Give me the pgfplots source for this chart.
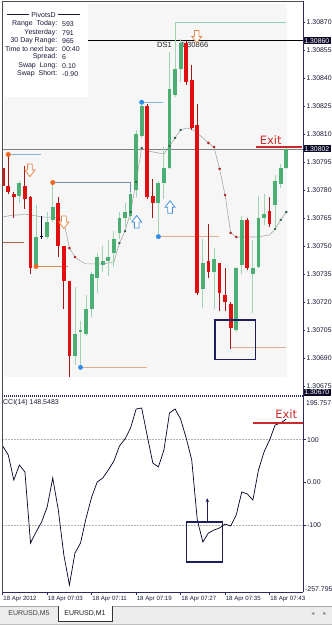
\documentclass[border=0pt]{standalone}
\usepackage{pgfplots}
\pgfplotsset{compat=1.18}
\usepackage{pgfplotstable}
\usepackage{fontspec}
\setmainfont{Liberation Sans}
\newfontfamily\dejavu{DejaVu Sans}
\usetikzlibrary{arrows.meta}

\definecolor{bull}{HTML}{4BAE72}
\definecolor{bullwick}{HTML}{9ED4B2}
\definecolor{bear}{HTML}{E01010}
\definecolor{bearwick}{HTML}{A01818}
\definecolor{boxnavy}{HTML}{1E1E5A}
\definecolor{axisnavy}{HTML}{2A2A60}
\definecolor{labelnavy}{HTML}{1A1A3A}
\definecolor{tanline}{HTML}{DDAE90}
\definecolor{orangeline}{HTML}{D88A58}
\definecolor{brownline}{HTML}{B0604A}
\definecolor{pivblue}{HTML}{88B4D8}
\definecolor{dotorange}{HTML}{F0641E}
\definecolor{dotblue}{HTML}{2E8DEB}
\definecolor{tealline}{HTML}{8FD0BF}
\definecolor{exitred}{HTML}{CC2A2A}
\definecolor{chartbg}{HTML}{F6F6F6}
\definecolor{maline}{HTML}{A8A8A8}
\definecolor{madotred}{HTML}{B02020}
\definecolor{madotgreen}{HTML}{2E5E3E}
\definecolor{arroworange}{HTML}{E88A4A}
\definecolor{arrowblue}{HTML}{4A90D8}
\definecolor{tabbg}{HTML}{ECECEC}
\definecolor{hlbg}{HTML}{0A0A28}

\pgfdeclareplotmark{darrow}{%
  \pgfpathmoveto{\pgfqpoint{-2.3pt}{6.5pt}}%
  \pgfpathlineto{\pgfqpoint{2.3pt}{6.5pt}}%
  \pgfpathlineto{\pgfqpoint{2.3pt}{0.5pt}}%
  \pgfpathlineto{\pgfqpoint{5pt}{0.5pt}}%
  \pgfpathlineto{\pgfqpoint{0pt}{-6pt}}%
  \pgfpathlineto{\pgfqpoint{-5pt}{0.5pt}}%
  \pgfpathlineto{\pgfqpoint{-2.3pt}{0.5pt}}%
  \pgfpathclose
  \pgfusepathqfillstroke}
\pgfdeclareplotmark{uarrow}{%
  \pgfpathmoveto{\pgfqpoint{-2.3pt}{-6.5pt}}%
  \pgfpathlineto{\pgfqpoint{2.3pt}{-6.5pt}}%
  \pgfpathlineto{\pgfqpoint{2.3pt}{-0.5pt}}%
  \pgfpathlineto{\pgfqpoint{5pt}{-0.5pt}}%
  \pgfpathlineto{\pgfqpoint{0pt}{6pt}}%
  \pgfpathlineto{\pgfqpoint{-5pt}{-0.5pt}}%
  \pgfpathlineto{\pgfqpoint{-2.3pt}{-0.5pt}}%
  \pgfpathclose
  \pgfusepathqfillstroke}

% prices in points above 1.30600 (e.g. 270 = 1.30870)
\pgfplotstableread{
i O H L C
3 177 185 173 184
6 139 172 138 155
8 155 168 154 163
9 164 184 163 171
13 91 128 86 103
14 104 110 85 105
15 103 124 102 116
16 116 136 112 135
17 133 146 125 144
18 140 150 136 142
19 142 153 134 144
20 146 158 139 154
21 157 168 154 165
22 165 173 160 168
23 166 179 164 178
24 180 212 176 210
25 209 227 208 225
28 173 185 155 184
29 184 203 175 192
30 192 254 191 234
31 231 270 230 245
32 245 261 238 259
36 127 154 117 141
38 136 149 116 143
42 105 139 104 138
43 140 166 135 164
45 135 153 114 138
46 139 177 138 165
47 165 178 161 167
49 172 188 159 185
50 183 194 181 192
51 192 202.5 191 202
}\bulltab

\pgfplotstableread{
i O H L C
0 192 197 180 182
1 182 199 178 179
2 178 179 165 176
4 182 193 170 175
5 176 177 135 138
10 173 176 144 150
11 150 150 116 131
12 131 131 80 91
26 225 226 175 176
27 177 186 165 173
33 259 260 236 238
34 239 247 212 213
35 215 226 124 125
37 142 162 133 136
39 141 141 115 125
40 124 138 115 120
41 119 120 95 106
44 164 165 137 138
48 169 176 160 162
}\beartab

\pgfplotstableread{
i v
0 165.5
1 166.1
2 166.6
3 166.6
4 167.1
5 166.6
6 166.1
7 165.5
8 165.5
9 165.5
10 165.0
11 163.0
12 148.9
13 144.1
14 141.9
15 140.4
16 140.4
17 140.4
18 140.4
19 140.9
20 141.4
21 151.6
22 158.0
23 168.2
24 184.3
25 202.5
26 200.9
27 200.4
28 199.8
29 199.3
30 203.6
31 207.9
32 212.1
33 213.2
34 212.7
35 210.5
36 207.9
37 205.2
38 203.0
39 191.3
40 177.3
41 157.0
42 154.8
43 154.8
44 154.8
45 154.8
46 154.8
47 155.4
48 155.9
49 159.1
50 164.0
51 168.2
}\matab

\pgfplotstableread{
i cci
-0.5 93
0 85.3
1 64.2
2 5.4
3 40.7
4 24.2
5 -142.6
6 -116.8
7 -93.3
8 -58.0
9 10.1
10 -65.1
11 -170.8
12 -241.3
13 -166.1
14 -142.6
15 -83.9
16 -34.5
17 0.7
18 10.1
19 28.9
20 50.1
21 85.3
22 101.8
23 127.6
24 172.3
25 174.6
26 108.8
27 45.4
28 36.0
29 75.9
30 162.9
31 172.3
32 148.7
33 104.1
34 52.4
35 -88.6
36 -140.3
37 -119.1
38 -112.1
39 -107.4
40 -98.0
41 -102.7
42 -76.8
43 -22.8
44 -27.5
45 -41.6
46 28.9
47 71.2
48 99.4
49 134.6
50 139.4
51 148.5
}\ccitab

\newcommand{\lblfont}{\fontsize{6.9}{7}\selectfont}
\newcommand{\infofont}{\fontsize{7}{8}\selectfont}
\pgfplotsset{candle/.style={draw=none, mark=none, error bars/.cd, y dir=plus, y explicit, error mark=none}}

\begin{document}
\begin{tikzpicture}
\useasboundingbox (0pt,0pt) rectangle (332pt,625pt);
\fill[white] (0pt,0pt) rectangle (332pt,625pt);
\fill[chartbg] (4pt,248pt) rectangle (287pt,621pt);

% ---------------- main price panel ----------------
\begin{axis}[
  at={(2pt,229pt)}, anchor=south west,
  scale only axis, width=301pt, height=394pt,
  xmin=-0.126, xmax=54.01, ymin=69.64, ymax=280.71,
  axis line style={draw=none},
  clip mode=individual,
  xtick=\empty,
  ytick={75,90,105,120,135,150,165,180,195,210,225,240,255,270},
  yticklabels={1.30675,1.30690,1.30705,1.30720,1.30735,1.30750,1.30765,1.30780,1.30795,1.30810,1.30825,1.30840,1.30855,1.30870},
  ytick pos=right, yticklabel pos=right,
  tick align=outside, major tick length=2.5pt,
  tick style={axisnavy, line width=0.5pt},
  yticklabel style={font=\lblfont, text=labelnavy, anchor=west, inner sep=0pt, xshift=1pt},
]
% horizontal reference lines
\addplot[gray, line width=0.6pt] coordinates {(-0.126,202) (54.01,202)};
\addplot[black, line width=0.9pt] coordinates {(-0.126,260) (54.01,260)};
% pivot lines
\addplot[brownline, line width=0.8pt] coordinates {(-0.126,152) (3.8,152)};
\addplot[pivblue, line width=0.8pt] coordinates {(1,199) (6.9,199)};
\addplot[pivblue!80!black, line width=0.8pt] coordinates {(9,184) (22.9,184) (22.9,178.5)};
\addplot[pivblue, line width=0.8pt] coordinates {(25,227) (28.8,227)};
\addplot[orangeline, line width=0.8pt] coordinates {(6,139) (11.75,139)};
\addplot[tanline, line width=0.9pt] coordinates {(14,85) (26,85)};
\addplot[tanline, line width=0.9pt] coordinates {(28,155) (38.9,155)};
\addplot[tanline, line width=0.9pt] coordinates {(41,95.4) (51,95.4)};
\addplot[tealline, line width=0.8pt] coordinates {(31,270) (51,270)};
% DS1 label
\node[anchor=west, inner sep=0pt, font=\fontsize{7.6}{8}\selectfont, text=black!85] at (axis cs:27.75,257.7) {DS1};
\node[anchor=west, inner sep=0pt, font=\fontsize{7.6}{8}\selectfont, text=black!85] at (axis cs:32.0,257.7) {1.30866};
% moving average
\addplot[maline, line width=0.6pt, mark=none] table[x=i, y=v] {\matab};
% candles: wicks
\addplot[candle, error bar style={draw=bullwick, line width=0.9pt}]
  table[x=i, y=L, y error plus expr={\thisrow{H}-\thisrow{L}}] {\bulltab};
\addplot[candle, error bar style={draw=bearwick, line width=0.9pt}]
  table[x=i, y=L, y error plus expr={\thisrow{H}-\thisrow{L}}] {\beartab};
% candles: bodies
\addplot[candle, error bar style={draw=bull, line width=3.8pt}]
  table[x=i, y=O, y error plus expr={\thisrow{C}-\thisrow{O}}] {\bulltab};
\addplot[candle, error bar style={draw=bear, line width=3.8pt}]
  table[x=i, y=C, y error plus expr={\thisrow{O}-\thisrow{C}}] {\beartab};
% doji
\addplot[black!80!blue, line width=0.8pt] coordinates {(7,154) (7,166)};
\addplot[black!80!blue, line width=0.9pt] coordinates {(6.68,155) (7.32,155)};
% MA dots
\addplot[only marks, mark=*, mark size=1.1pt, color=madotred] coordinates {(11,163.0) (12,148.9) (13,144.1) (37,205.2) (38,203.0) (39,191.3) (40,177.3) (41,157.0) (42,154.8)};
\addplot[only marks, mark=*, mark size=1.0pt, color=madotgreen] coordinates {(21,151.6) (22,158.0) (23,168.2) (24,184.3) (25,202.5) (30,203.6) (31,207.9) (32,212.1) (49,159.1) (50,164.0) (51,168.2)};
% swing dots
\addplot[only marks, mark=*, mark size=2.2pt, color=dotorange] coordinates {(1,199) (9,184) (6,139)};
\addplot[only marks, mark=*, mark size=2.2pt, color=dotblue] coordinates {(25,227) (14,85) (28,155)};
% signal arrows
\addplot[only marks, mark=darrow, mark options={draw=arroworange, fill=white, line width=0.8pt}] coordinates {(4.9,190.4) (11.0,162.6) (34.9,262)};
\addplot[only marks, mark=uarrow, mark options={draw=arrowblue, fill=white, line width=0.8pt}] coordinates {(24.1,163.1) (30.1,171.0)};
% box
\addplot[boxnavy, line width=1.2pt, line cap=rect, line join=miter] coordinates {(38.2,89.1) (45.4,89.1) (45.4,110.4) (38.2,110.4) (38.2,89.1)};
% exit
\addplot[exitred, line width=1.3pt] coordinates {(45.6,203) (53.9,203)};
\node[anchor=base west, inner sep=0pt, font=\dejavu\fontsize{11.5}{12}\selectfont, text=exitred] at (axis cs:46.2,204.6) {Exit};
% highlighted price labels
\node[anchor=west, fill=hlbg, text=white, inner xsep=1.2pt, inner ysep=1pt, font=\lblfont] at (axis cs:54.01,260) {1.30860};
\node[anchor=west, fill=hlbg, text=white, inner xsep=1.2pt, inner ysep=1pt, font=\lblfont] at (axis cs:54.01,202) {1.30802};
\node[anchor=west, fill=hlbg, text=white, inner xsep=1.2pt, inner ysep=1pt, font=\lblfont] at (axis cs:54.01,71.5) {1.30670};
\end{axis}

% ---------------- CCI panel ----------------
\begin{axis}[
  at={(2pt,33pt)}, anchor=south west,
  scale only axis, width=301pt, height=193pt,
  xmin=-0.126, xmax=54.01, ymin=-257.795, ymax=195.757,
  axis line style={draw=none},
  clip mode=individual,
  xtick={0,8,16,24,32,40,48},
  xticklabels={18 Apr 2012,18 Apr 07:03,18 Apr 07:11,18 Apr 07:19,18 Apr 07:27,18 Apr 07:35,18 Apr 07:43},
  ytick={-100,0,100},
  yticklabels={-100,0.00,100},
  xtick pos=left, ytick pos=right, yticklabel pos=right,
  tick align=outside, major tick length=3pt,
  tick style={axisnavy, line width=0.5pt},
  xticklabel style={font=\fontsize{6.1}{7}\selectfont, text=labelnavy, anchor=north west, inner sep=0pt, xshift=0.5pt, yshift=-1pt},
  yticklabel style={font=\lblfont, text=labelnavy, anchor=west, inner sep=0pt, xshift=1pt},
]
\addplot[gray!60, line width=0.5pt, dash pattern=on 1.5pt off 1.5pt] coordinates {(-0.126,100) (54.01,100)};
\addplot[gray!60, line width=0.5pt, dash pattern=on 1.5pt off 1.5pt] coordinates {(-0.126,-100) (54.01,-100)};
\addplot[black!85!blue, line width=0.7pt, mark=none] table[x=i, y=cci] {\ccitab};
\addplot[boxnavy, line width=1.2pt, line cap=rect, line join=miter] coordinates {(33.1,-93.3) (39.6,-93.3) (39.6,-187.3) (33.1,-187.3) (33.1,-93.3)};
\addplot[boxnavy, line width=1pt, -{Stealth[length=4pt,width=3.5pt]}] coordinates {(36.8,-93.3) (36.8,-37.3)};
\addplot[exitred, line width=1.3pt] coordinates {(45.0,139.4) (54.01,139.4)};
\node[anchor=base west, inner sep=0pt, font=\dejavu\fontsize{11.5}{12}\selectfont, text=exitred] at (axis cs:49.0,151) {Exit};
\node[anchor=west, inner sep=0pt, font=\fontsize{7}{8}\selectfont, text=labelnavy] at (axis cs:0.05,186) {CCI(14) 148.5483};
\end{axis}

% extreme CCI labels
\node[anchor=west, inner sep=0pt, font=\lblfont, text=labelnavy] at (306pt,222pt) {195.757};
\node[anchor=west, inner sep=0pt, font=\lblfont, text=labelnavy] at (305pt,36pt) {-257.795};

% frame lines
\draw[black!70, line width=0.8pt] (2pt,33pt) -- (2pt,623.5pt) -- (303pt,623.5pt);
\draw[axisnavy, line width=0.7pt] (303pt,33pt) -- (303pt,623.5pt);
\draw[axisnavy, line width=0.7pt] (2pt,33pt) -- (303pt,33pt);
\draw[axisnavy, line width=1.1pt, dash pattern=on 1pt off 1pt] (2pt,229pt) -- (303pt,229pt);

% info box
\fill[white] (3pt,528pt) rectangle (88pt,622pt);
\draw[labelnavy, line width=0.5pt] (7pt,610.5pt) -- (29pt,610.5pt);
\draw[labelnavy, line width=0.5pt] (58pt,610.5pt) -- (80pt,610.5pt);
\node[inner sep=0pt, font=\infofont, text=labelnavy] at (43.5pt,610pt) {PivotsD};
\foreach \lab/\val/\yy in {Range\ \ Today:/593/601, Yesterday:/791/592, 30 Day Range:/965/584, Time to next bar:/00:40/576, Spread:/6/568, Swap\ \ Long:/0.10/559, Swap\ \ Short:/-0.90/551}{
  \node[anchor=east, inner sep=0pt, font=\infofont, text=labelnavy] at (57.5pt,\yy pt) {\lab};
  \node[anchor=west, inner sep=0pt, font=\infofont, text=labelnavy] at (62pt,\yy pt) {\val};
}

% tab bar
\fill[tabbg] (0pt,0pt) rectangle (332pt,18.5pt);
\draw[gray!70, line width=0.6pt] (0pt,18.5pt) -- (332pt,18.5pt);
\fill[white] (58pt,4pt) rectangle (112pt,18.5pt);
\draw[black!80, line width=0.7pt] (58pt,18.5pt) -- (58pt,4pt) -- (112pt,4pt) -- (112pt,18.5pt);
\node[inner sep=0pt, font=\fontsize{7}{8}\selectfont, text=black!75] at (29pt,11pt) {EURUSD,M5};
\node[inner sep=0pt, font=\fontsize{7}{8}\selectfont, text=black!90] at (85pt,11pt) {EURUSD,M1};
\node[inner sep=0pt, font=\dejavu\fontsize{6}{7}\selectfont, text=gray] at (313pt,11pt) {◂};
\node[inner sep=0pt, font=\dejavu\fontsize{6}{7}\selectfont, text=gray] at (325pt,11pt) {▸};
\draw[gray!50, line width=0.5pt] (0pt,1pt) -- (332pt,1pt);
\end{tikzpicture}
\end{document}
